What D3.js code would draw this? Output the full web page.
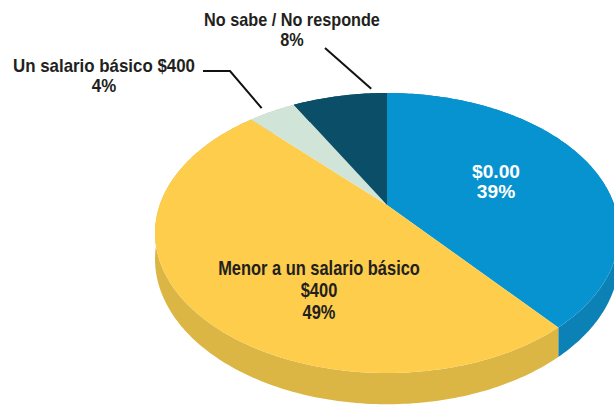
<!DOCTYPE html>
<html lang="es">
<head>
<meta charset="utf-8" />
<title>salario</title>
<script src="https://d3js.org/d3.v7.min.js"></script>
<style>
  body { margin: 0; background: #fff; }
  text { font-family: "Liberation Sans", Arial, sans-serif; font-weight: 700; }
</style>
</head>
<body>
<div id="chart"></div>
<script>
// data
var categories = ["$0.00", "Menor a un salario básico $400", "Un salario básico $400", "No sabe / No responde"];
var values = [39, 49, 4, 8];
var labelLines = [["$0.00", "39%"], ["Menor a un salario básico", "$400", "49%"], ["Un salario básico $400", "4%"], ["No sabe / No responde", "8%"]];
var topColors = ["#0793d0", "#fdcd4b", "#d0e5d8", "#0a4e67"];
var sideColors = ["#0c81b6", "#dcb645", "#b9ccc0", "#083d51"];

var width = 614, height = 407;

// tilted disc: perspective mapping of the unit circle
var cx = 387, cy = 205, A = 227.3, B = 134.4, k = 0.2, depth = 25;
function proj(a, r) {
  var u = r * Math.sin(a), v = -r * Math.cos(a), d = 1 - k * v;
  return [cx + A * u / d, cy + B * v / d, d];
}

var pie = d3.pie().sort(null).value(function(d){ return d; });
var arcs = pie(values);

var svg = d3.select("#chart").append("svg")
    .attr("width", width)
    .attr("height", height);

var line = d3.line();

function rim(a0, a1) {
  var n = Math.max(8, Math.ceil((a1 - a0) * 60));
  return d3.range(n + 1).map(function(i){ return proj(a0 + (a1 - a0) * i / n, 1); });
}

// side walls first
svg.selectAll("path.side")
  .data(arcs)
  .enter().append("path")
    .attr("class", "side")
    .attr("fill", function(d, i){ return sideColors[i]; })
    .attr("d", function(d){
      var top = rim(d.startAngle, d.endAngle);
      var bottom = top.map(function(p){ return [p[0], p[1] + depth / p[2]]; }).reverse();
      return line(top.map(function(p){ return [p[0], p[1]]; }).concat(bottom)) + "Z";
    });

// top faces
svg.selectAll("path.top")
  .data(arcs)
  .enter().append("path")
    .attr("class", "top")
    .attr("fill", function(d, i){ return topColors[i]; })
    .attr("d", function(d){
      var c = proj(0, 0);
      var pts = [[c[0], c[1]]].concat(rim(d.startAngle, d.endAngle).map(function(p){ return [p[0], p[1]]; }));
      return line(pts) + "Z";
    });

// text blocks, squeezed sideways to look like the condensed face of the original
function block(x, y, lines, color, size, gap, firstWidth) {
  var g = svg.append("g").attr("transform", "translate(" + x + "," + y + ")");
  var inner = g.append("g");
  var texts = lines.map(function(s, j){
    return inner.append("text")
        .attr("text-anchor", "middle")
        .attr("font-size", size)
        .attr("fill", color)
        .attr("y", j * gap)
        .text(s);
  });
  var w = texts[0].node().getComputedTextLength();
  inner.attr("transform", "scale(" + (firstWidth / w) + ",1)");
}

block(496, 178, labelLines[0], "#ffffff", 18, 20.5, 48);
block(319, 275, labelLines[1], "#231f20", 19.5, 22, 202);
block(104, 72, labelLines[2], "#231f20", 18, 20.5, 182);
block(292, 26, labelLines[3], "#231f20", 18, 20.5, 176);

// leader lines
var e2 = proj(arcs[2].startAngle + (arcs[2].endAngle - arcs[2].startAngle) * 0.4, 1.06);
var e3 = proj(arcs[3].endAngle - 0.08, 1.05);
svg.append("path")
    .attr("d", line([[203, 71], [230, 71], [e2[0], e2[1]]]))
    .attr("fill", "none").attr("stroke", "#111").attr("stroke-width", 2);
svg.append("path")
    .attr("d", line([[325, 48], [e3[0], e3[1]]]))
    .attr("fill", "none").attr("stroke", "#111").attr("stroke-width", 2);
</script>
</body>
</html>
